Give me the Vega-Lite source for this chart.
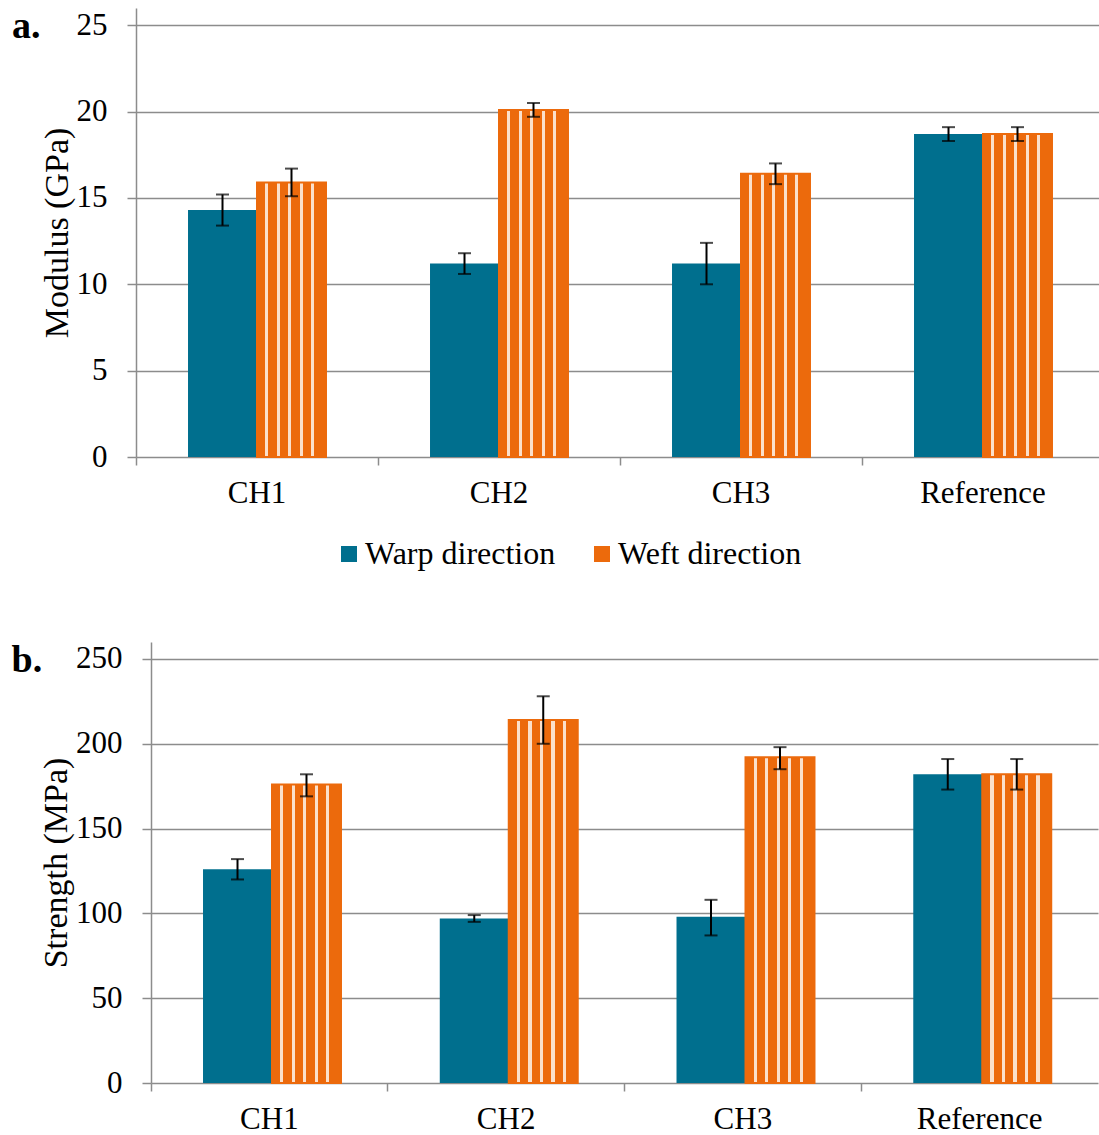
{
  "$schema": "https://vega.github.io/schema/vega-lite/v6.json",
  "padding": {"left": 11, "top": 8, "right": 0, "bottom": 0},
  "datasets": {
    "modulus": [
      {"sample": "CH1", "dir": "Warp direction", "value": 14.3, "lo": 13.4, "hi": 15.2},
      {"sample": "CH1", "dir": "Weft direction", "value": 15.9, "lo": 15.1, "hi": 16.7},
      {"sample": "CH2", "dir": "Warp direction", "value": 11.2, "lo": 10.6, "hi": 11.8},
      {"sample": "CH2", "dir": "Weft direction", "value": 20.1, "lo": 19.7, "hi": 20.5},
      {"sample": "CH3", "dir": "Warp direction", "value": 11.2, "lo": 10.0, "hi": 12.4},
      {"sample": "CH3", "dir": "Weft direction", "value": 16.4, "lo": 15.8, "hi": 17.0},
      {"sample": "Reference", "dir": "Warp direction", "value": 18.7, "lo": 18.3, "hi": 19.1},
      {"sample": "Reference", "dir": "Weft direction", "value": 18.7, "lo": 18.3, "hi": 19.1}
    ],
    "strength": [
      {"sample": "CH1", "dir": "Warp direction", "value": 126, "lo": 120, "hi": 132},
      {"sample": "CH1", "dir": "Weft direction", "value": 176, "lo": 169, "hi": 182},
      {"sample": "CH2", "dir": "Warp direction", "value": 97, "lo": 95, "hi": 99},
      {"sample": "CH2", "dir": "Weft direction", "value": 214, "lo": 200, "hi": 228},
      {"sample": "CH3", "dir": "Warp direction", "value": 98, "lo": 87, "hi": 108},
      {"sample": "CH3", "dir": "Weft direction", "value": 192, "lo": 185, "hi": 198},
      {"sample": "Reference", "dir": "Warp direction", "value": 182, "lo": 173, "hi": 191},
      {"sample": "Reference", "dir": "Weft direction", "value": 182, "lo": 173, "hi": 191}
    ]
  },
  "concat": [
    {
      "data": {"name": "modulus"},
      "width": 962,
      "height": 449,
      "title": {"text": "a.", "fontSize": 38, "fontWeight": "bold", "font": "Liberation Serif", "color": "black", "anchor": "start", "frame": "bounds", "offset": -38, "dx": -28},
      "encoding": {
        "x": {"field": "sample", "type": "nominal", "sort": null, "title": null,
          "scale": {"range": [0, 968], "paddingInner": 0, "paddingOuter": 0},
          "axis": {"labelAngle": 0, "bandPosition": 0, "domain": false, "tickSize": 8, "labelPadding": 13, "grid": false}},
        "xOffset": {"field": "dir", "type": "nominal", "scale": {"domain": ["Warp direction", "Weft direction"], "paddingInner": 0, "paddingOuter": 0.754}}
      },
      "layer": [
        {
          "mark": {"type": "bar"},
          "encoding": {
            "y": {"field": "value", "type": "quantitative", "title": "Modulus (GPa)",
              "scale": {"domain": [0, 25]},
              "axis": {"values": [0, 5, 10, 15, 20, 25], "tickSize": 9, "labelPadding": 20, "titlePadding": 2}},
            "color": {"field": "dir", "type": "nominal",
              "scale": {"domain": ["Warp direction", "Weft direction"], "range": ["#006F8E", "#EC6A0C"]},
              "legend": {"orient": "none", "legendX": 197, "legendY": 530, "direction": "horizontal", "title": null,
                "symbolType": "square", "symbolSize": 256, "symbolStrokeWidth": 0, "labelFontSize": 32,
                "labelFont": "Liberation Serif", "labelColor": "black", "labelOffset": 0, "columnPadding": 30, "labelLimit": 400}}
          }
        },
        {
          "transform": [{"filter": {"field": "dir", "equal": "Weft direction"}}],
          "mark": {"type": "bar", "stroke": "#EC6A0C", "strokeWidth": 2,
            "fill": {"gradient": "linear", "x1": 0, "y1": 0, "x2": 1, "y2": 0, "stops": [
              {"offset": 0, "color": "#EC6A0C"}, {"offset": 0.1167, "color": "#EC6A0C"}, {"offset": 0.1167, "color": "#FBE0CB"}, {"offset": 0.1667, "color": "#FBE0CB"},
              {"offset": 0.1667, "color": "#EC6A0C"}, {"offset": 0.2833, "color": "#EC6A0C"}, {"offset": 0.2833, "color": "#FBE0CB"}, {"offset": 0.3333, "color": "#FBE0CB"},
              {"offset": 0.3333, "color": "#EC6A0C"}, {"offset": 0.45, "color": "#EC6A0C"}, {"offset": 0.45, "color": "#FBE0CB"}, {"offset": 0.5, "color": "#FBE0CB"},
              {"offset": 0.5, "color": "#EC6A0C"}, {"offset": 0.6167, "color": "#EC6A0C"}, {"offset": 0.6167, "color": "#FBE0CB"}, {"offset": 0.6667, "color": "#FBE0CB"},
              {"offset": 0.6667, "color": "#EC6A0C"}, {"offset": 0.7833, "color": "#EC6A0C"}, {"offset": 0.7833, "color": "#FBE0CB"}, {"offset": 0.8333, "color": "#FBE0CB"},
              {"offset": 0.8333, "color": "#EC6A0C"}, {"offset": 1, "color": "#EC6A0C"}
            ]}},
          "encoding": {"y": {"field": "value", "type": "quantitative"}}
        },
        {
          "mark": {"type": "rule", "color": "black", "strokeWidth": 2},
          "encoding": {"y": {"field": "lo", "type": "quantitative"}, "y2": {"field": "hi"}}
        },
        {
          "mark": {"type": "tick", "color": "black", "size": 13, "thickness": 2},
          "encoding": {"y": {"field": "lo", "type": "quantitative"}}
        },
        {
          "mark": {"type": "tick", "color": "black", "size": 13, "thickness": 2},
          "encoding": {"y": {"field": "hi", "type": "quantitative"}}
        }
      ]
    },
    {
      "data": {"name": "strength"},
      "width": 947,
      "height": 441,
      "title": {"text": "b.", "fontSize": 38, "fontWeight": "bold", "font": "Liberation Serif", "color": "black", "anchor": "start", "frame": "bounds", "offset": -38, "dx": -28},
      "encoding": {
        "x": {"field": "sample", "type": "nominal", "sort": null, "title": null,
          "scale": {"range": [15, 962], "paddingInner": 0, "paddingOuter": 0},
          "axis": {"labelAngle": 0, "bandPosition": 0, "domain": false, "tickSize": 8, "labelPadding": 13, "grid": false}},
        "xOffset": {"field": "dir", "type": "nominal", "scale": {"domain": ["Warp direction", "Weft direction"], "paddingInner": 0, "paddingOuter": 0.739}}
      },
      "layer": [
        {
          "mark": {"type": "bar"},
          "encoding": {
            "y": {"field": "value", "type": "quantitative", "title": "Strength (MPa)",
              "scale": {"domain": [0, 250]},
              "axis": {"values": [0, 50, 100, 150, 200, 250], "offset": -15, "tickSize": 9, "labelPadding": 20, "titlePadding": 2}},
            "color": {"field": "dir", "type": "nominal",
              "scale": {"domain": ["Warp direction", "Weft direction"], "range": ["#006F8E", "#EC6A0C"]},
              "legend": null}
          }
        },
        {
          "transform": [{"filter": {"field": "dir", "equal": "Weft direction"}}],
          "mark": {"type": "bar", "stroke": "#EC6A0C", "strokeWidth": 2,
            "fill": {"gradient": "linear", "x1": 0, "y1": 0, "x2": 1, "y2": 0, "stops": [
              {"offset": 0, "color": "#EC6A0C"}, {"offset": 0.1167, "color": "#EC6A0C"}, {"offset": 0.1167, "color": "#FBE0CB"}, {"offset": 0.1667, "color": "#FBE0CB"},
              {"offset": 0.1667, "color": "#EC6A0C"}, {"offset": 0.2833, "color": "#EC6A0C"}, {"offset": 0.2833, "color": "#FBE0CB"}, {"offset": 0.3333, "color": "#FBE0CB"},
              {"offset": 0.3333, "color": "#EC6A0C"}, {"offset": 0.45, "color": "#EC6A0C"}, {"offset": 0.45, "color": "#FBE0CB"}, {"offset": 0.5, "color": "#FBE0CB"},
              {"offset": 0.5, "color": "#EC6A0C"}, {"offset": 0.6167, "color": "#EC6A0C"}, {"offset": 0.6167, "color": "#FBE0CB"}, {"offset": 0.6667, "color": "#FBE0CB"},
              {"offset": 0.6667, "color": "#EC6A0C"}, {"offset": 0.7833, "color": "#EC6A0C"}, {"offset": 0.7833, "color": "#FBE0CB"}, {"offset": 0.8333, "color": "#FBE0CB"},
              {"offset": 0.8333, "color": "#EC6A0C"}, {"offset": 1, "color": "#EC6A0C"}
            ]}},
          "encoding": {"y": {"field": "value", "type": "quantitative"}}
        },
        {
          "mark": {"type": "rule", "color": "black", "strokeWidth": 2},
          "encoding": {"y": {"field": "lo", "type": "quantitative"}, "y2": {"field": "hi"}}
        },
        {
          "mark": {"type": "tick", "color": "black", "size": 13, "thickness": 2},
          "encoding": {"y": {"field": "lo", "type": "quantitative"}}
        },
        {
          "mark": {"type": "tick", "color": "black", "size": 13, "thickness": 2},
          "encoding": {"y": {"field": "hi", "type": "quantitative"}}
        }
      ]
    }
  ],
  "columns": 1,
  "spacing": 72,
  "align": "none",
  "resolve": {"legend": {"color": "independent"}},
  "config": {
    "view": {"stroke": null},
    "font": "Liberation Serif",
    "axis": {
      "labelFont": "Liberation Serif", "labelFontSize": 31, "labelColor": "black",
      "titleFont": "Liberation Serif", "titleFontSize": 34, "titleFontWeight": "normal", "titleColor": "black",
      "domainColor": "#8c8c8c", "domainWidth": 1.5, "tickColor": "#8c8c8c", "tickWidth": 1.5,
      "gridColor": "#8c8c8c", "gridWidth": 1.5
    }
  }
}
